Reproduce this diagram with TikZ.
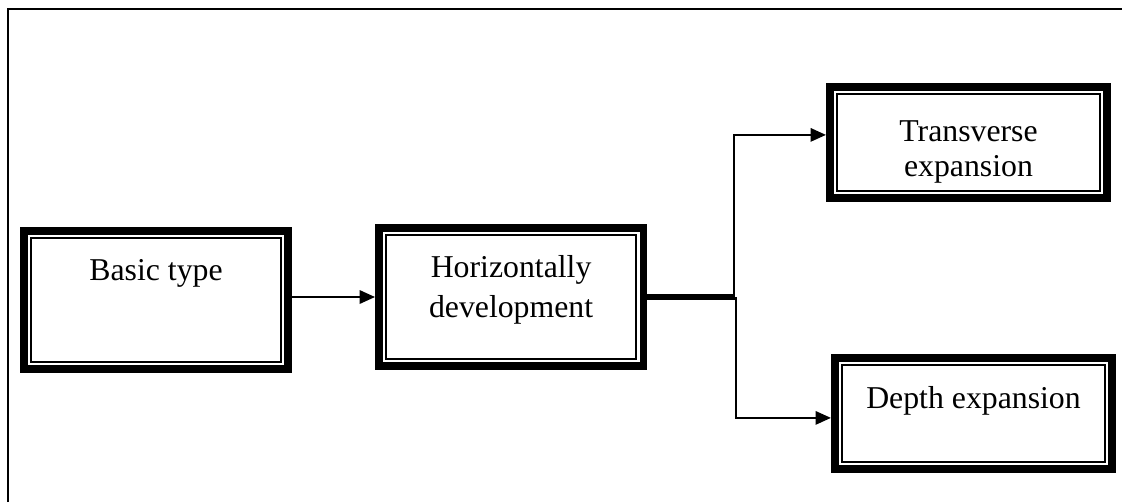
\documentclass[tikz,border=0pt]{standalone}
\usepackage{fontspec}
\setmainfont{Liberation Serif}
\usetikzlibrary{positioning, arrows.meta}

\begin{document}
\begin{tikzpicture}[x=0.025cm, y=-0.025cm, >={Triangle[length=11pt, width=9.5pt]},
        box/.style={draw, line width=5.4pt, inner sep=0pt, align=center,
            minimum width=6.61cm, minimum height=3.46cm,
            font=\fontsize{22.6pt}{28.4pt}\selectfont,
            append after command={\pgfextra{\draw[line width=1.3pt]
                ([shift={(7.7pt,-7.7pt)}]\tikzlastnode.north west) rectangle
                ([shift={(-7.7pt,7.7pt)}]\tikzlastnode.south east);}}},
        wide/.style={minimum width=6.935cm, minimum height=2.785cm},
        link/.style={->, line width=1.6pt}]
    \useasboundingbox (0,0) rectangle (1122,502);
    \draw[line width=2pt] (8,502) -- (8,9) -- (1122,9);

    \node[box, text height=0.55cm, text depth=1.55cm] (basic) at (156,300) {Basic type};
    \node[box, text height=1.55cm, text depth=0.55cm, right=2.075cm of basic, yshift=0.075cm] (horiz) {Horizontally\\development};
    \node[box, wide, text height=2cm, text depth=0.3cm] (trans) at (968.5,142.5) {Transverse\\[-3.5pt]expansion};
    \node[box, wide, text height=0.55cm, text depth=0.825cm] (depth) at (973.5,413.5) {Depth expansion};

    \coordinate (fork) at ([xshift=2.175cm]horiz.east);
    \coordinate (transin) at ([yshift=0.19cm]trans.west);
    \coordinate (depthin) at ([yshift=-0.11cm]depth.west);

    \draw[link] (basic.east |- horiz.west) -- (horiz.west);
    \draw[link] ([yshift=0.035cm]horiz.east) -- ([yshift=0.035cm]fork) |- (transin);
    \draw[link] ([yshift=-0.035cm]horiz.east) -- ([xshift=0.05cm, yshift=-0.035cm]fork) |- (depthin);
\end{tikzpicture}
\end{document}
